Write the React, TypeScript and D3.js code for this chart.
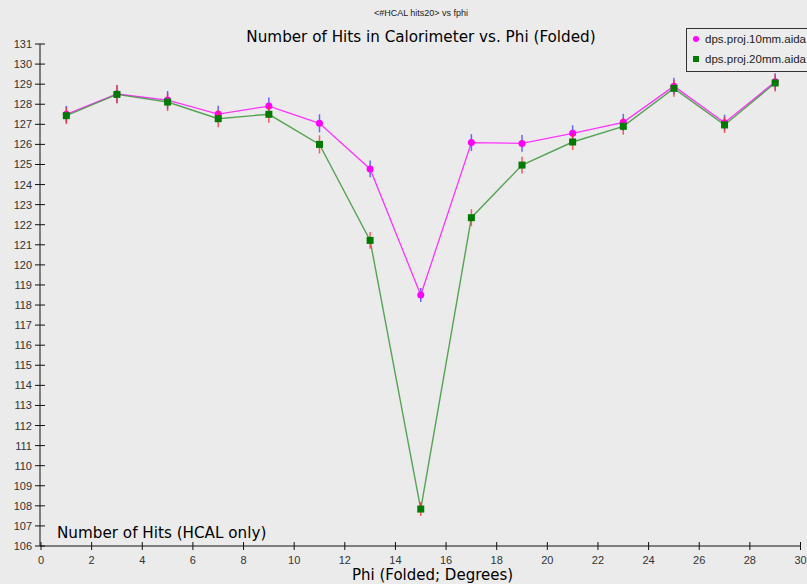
import React from "react";
import { scaleLinear, line, range } from "d3";

const phi = [1, 3, 5, 7, 9, 11, 13, 15, 17, 19, 21, 23, 25, 27, 29];
const hits10mm = [127.5, 128.51, 128.21, 127.51, 127.91, 127.05, 124.78, 118.5, 126.09, 126.05, 126.55, 127.1, 128.9, 127.08, 129.12];
const err10mm = [0.42, 0.45, 0.45, 0.42, 0.42, 0.45, 0.42, 0.35, 0.42, 0.42, 0.4, 0.42, 0.42, 0.4, 0.42];
const hits20mm = [127.43, 128.49, 128.11, 127.28, 127.5, 126.0, 121.22, 107.84, 122.35, 124.97, 126.12, 126.9, 128.79, 126.97, 129.06];
const err20mm = [0.42, 0.45, 0.45, 0.42, 0.42, 0.45, 0.42, 0.35, 0.42, 0.42, 0.4, 0.42, 0.42, 0.4, 0.42];
const seriesNames = ["dps.proj.10mm.aida", "dps.proj.20mm.aida"];
const xTicks = range(0, 31, 2);
const yTicks = range(106, 132, 1);

export default function App() {
  const width = 807,
    height = 584;
  const x = scaleLinear().domain([0, 30]).range([41, 800.5]);
  const y = scaleLinear().domain([106, 131]).range([546, 44]);
  const axisX = 40;
  const axisY = 546;

  const lineGen = line<[number, number]>()
    .x(d => x(d[0]))
    .y(d => y(d[1]));

  const pts10 = phi.map((p, i) => [p, hits10mm[i]] as [number, number]);
  const pts20 = phi.map((p, i) => [p, hits20mm[i]] as [number, number]);

  const tickFont = "Liberation Sans, Arial, sans-serif";
  const titleFont = "DejaVu Sans, Verdana, sans-serif";

  return (
    <svg
      width={width}
      height={height}
      style={{ position: "absolute", left: 0, top: 0 }}
    >
      <rect width={width} height={height} fill="#ebebeb" />

      <text x={421} y={16} textAnchor="middle" fontFamily={tickFont} fontSize={9} fill="#222">
        {"<#HCAL hits20> vs fphi"}
      </text>
      <text x={421} y={42} textAnchor="middle" fontFamily={titleFont} fontSize={15.2} fill="#000">
        Number of Hits in Calorimeter vs. Phi (Folded)
      </text>

      {/* y axis */}
      <line x1={axisX} x2={axisX} y1={y(131)} y2={axisY} stroke="#111" />
      {yTicks.map(t => (
        <g key={t}>
          <line x1={axisX - 5} x2={axisX + 5} y1={y(t)} y2={y(t)} stroke="#111" />
          <text x={axisX - 8} y={y(t) + 4} textAnchor="end" fontFamily={tickFont} fontSize={11} fill="#333">
            {t}
          </text>
        </g>
      ))}

      {/* x axis */}
      <line x1={axisX} x2={x(30)} y1={axisY} y2={axisY} stroke="#111" />
      {xTicks.map(t => (
        <g key={t}>
          <line x1={x(t)} x2={x(t)} y1={axisY - 4} y2={axisY + 4} stroke="#111" />
          <text x={x(t)} y={axisY + 18} textAnchor="middle" fontFamily={tickFont} fontSize={11} fill="#333">
            {t}
          </text>
        </g>
      ))}

      <text x={57} y={538} fontFamily={titleFont} fontSize={15.2} fill="#000">
        Number of Hits (HCAL only)
      </text>
      <text x={352} y={580} fontFamily={titleFont} fontSize={15} fill="#000">
        Phi (Folded; Degrees)
      </text>

      {/* 10mm series */}
      <path d={lineGen(pts10) || ""} fill="none" stroke="#ff33ff" strokeWidth={1.3} />
      {pts10.map((d, i) => (
        <line
          key={"e10" + i}
          x1={x(d[0])}
          x2={x(d[0])}
          y1={y(d[1] + err10mm[i])}
          y2={y(d[1] - err10mm[i])}
          stroke="#3a3aff"
          strokeOpacity={0.75}
          strokeWidth={1.5}
        />
      ))}
      {pts10.map((d, i) => (
        <circle key={"c10" + i} cx={x(d[0])} cy={y(d[1])} r={3.5} fill="#ff00ff" />
      ))}

      {/* 20mm series */}
      <path d={lineGen(pts20) || ""} fill="none" stroke="#3c963c" strokeOpacity={0.85} strokeWidth={1.4} />
      {pts20.map((d, i) => (
        <line
          key={"e20" + i}
          x1={x(d[0])}
          x2={x(d[0])}
          y1={y(d[1] + err20mm[i])}
          y2={y(d[1] - err20mm[i])}
          stroke="#ff2a2a"
          strokeOpacity={0.75}
          strokeWidth={1.5}
        />
      ))}
      {pts20.map((d, i) => (
        <rect key={"r20" + i} x={x(d[0]) - 3.5} y={y(d[1]) - 3.5} width={7} height={7} fill="#007a00" />
      ))}

      {/* legend */}
      <rect x={686.5} y={28.5} width={130} height={43} fill="#ececec" stroke="#333" />
      <circle cx={696} cy={39} r={3} fill="#ff00ff" />
      <rect x={693} y={56} width={6} height={6} fill="#007a00" />
      {seriesNames.map((n, i) => (
        <text key={n} x={705} y={43 + i * 20} fontFamily={tickFont} fontSize={11.5} fill="#222">
          {n}
        </text>
      ))}
    </svg>
  );
}
